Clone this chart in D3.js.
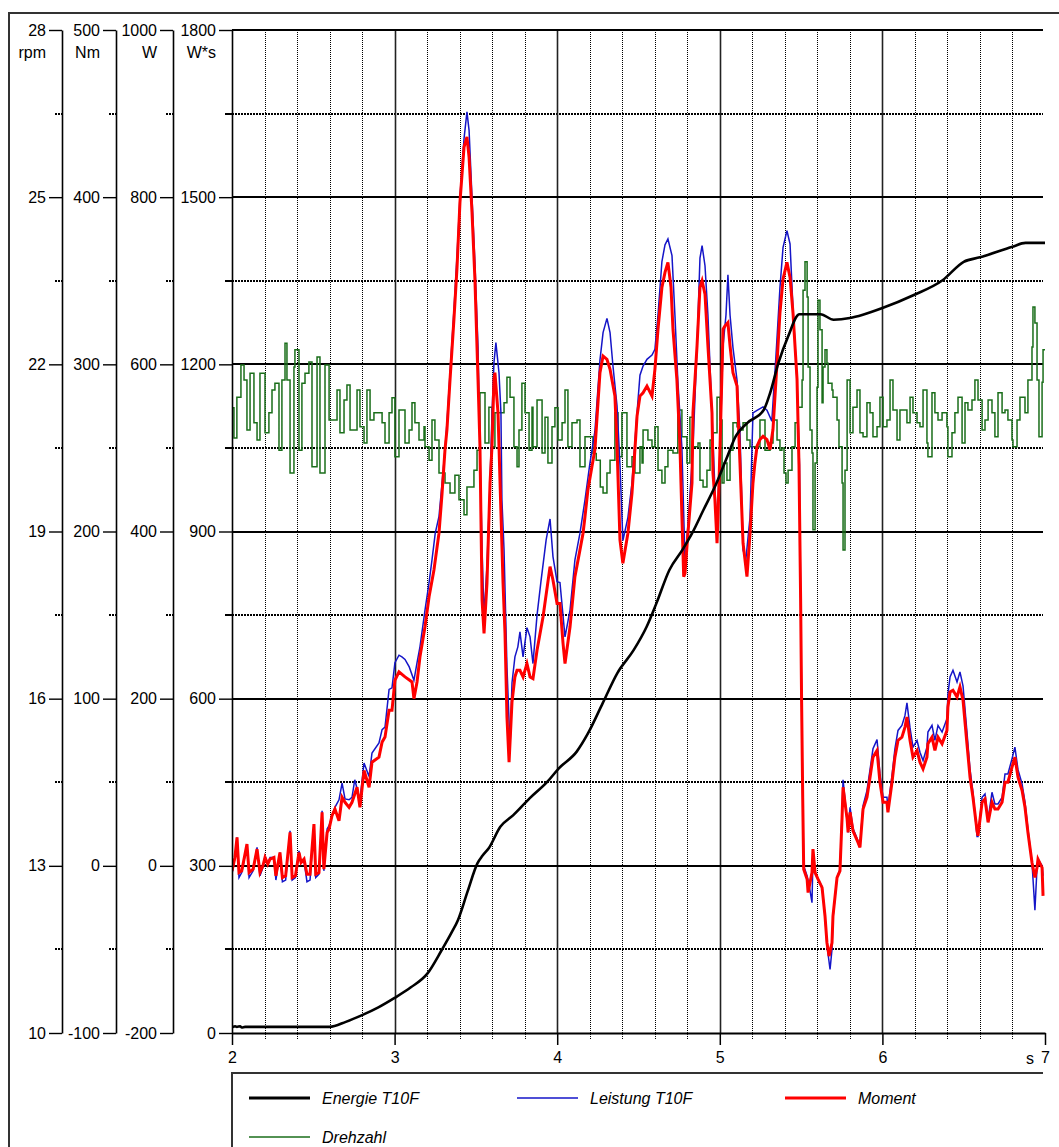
<!DOCTYPE html>
<html><head><meta charset="utf-8">
<script src="https://cdn.jsdelivr.net/npm/d3@7"></script>
<style>body{margin:0;background:#fff}svg{display:block}text{font-family:"Liberation Sans",Arial,sans-serif;fill:#000}</style>
</head><body><svg id="c" width="1059" height="1147"></svg>
<script>
// ---- data ----
const timeTicks = [2, 3, 4, 5, 6, 7];
const rpmTicks = [10, 13, 16, 19, 22, 25, 28];
const nmTicks = [-100, 0, 100, 200, 300, 400, 500];
const wTicks = [-200, 0, 200, 400, 600, 800, 1000];
const wsTicks = [0, 300, 600, 900, 1200, 1500, 1800];
const seriesNames = ["Energie T10F", "Leistung T10F", "Moment", "Drehzahl"];

// Energie T10F [s, W*s]
const energie = [[2.00,10],[2.02,12],[2.03,11],[2.05,12],[2.06,10],[2.08,11],[2.6,11],[2.7,20],[2.8,32],[2.9,46],[3.0,63],[3.1,82],[3.2,106],[3.29,149],[3.35,180],[3.39,203],[3.45,255],[3.51,305],[3.54,318],[3.58,332],[3.65,370],[3.73,391],[3.83,421],[3.94,451],[4.01,475],[4.12,505],[4.19,538],[4.28,592],[4.37,646],[4.47,687],[4.55,729],[4.61,771],[4.69,831],[4.77,867],[4.83,897],[4.90,939],[4.98,987],[5.04,1030],[5.10,1072],[5.17,1095],[5.27,1118],[5.31,1149],[5.36,1202],[5.42,1250],[5.49,1290],[5.62,1290],[5.70,1280],[5.80,1283],[5.88,1289],[6.00,1301],[6.19,1324],[6.37,1351],[6.50,1384],[6.60,1392],[6.80,1411],[6.88,1418],[7.0,1418]];

// Leistung T10F [s, W]
const leistung = [[2.000,-10],[2.018,10],[2.031,34],[2.043,-14],[2.060,-8],[2.092,24],[2.105,-14],[2.130,-6],[2.154,22],[2.172,-12],[2.190,-2],[2.203,12],[2.220,2],[2.234,10],[2.258,10],[2.270,-17],[2.295,16],[2.310,-19],[2.330,-17],[2.357,42],[2.370,-17],[2.390,-14],[2.412,18],[2.425,4],[2.443,6],[2.461,-19],[2.480,-17],[2.504,50],[2.515,-14],[2.535,-10],[2.554,66],[2.565,-6],[2.585,44],[2.597,48],[2.615,59],[2.633,70],
[2.658,79],[2.677,99],[2.695,80],[2.720,79],[2.738,82],[2.755,103],[2.787,79],[2.812,123],[2.843,107],[2.861,135],[2.904,147],[2.923,163],[2.941,166],[2.966,211],[2.984,213],[3.002,243],[3.027,252],[3.045,250],[3.064,247],[3.090,238],[3.119,222],[3.138,243],[3.156,262],[3.187,306],[3.212,339],[3.230,366],[3.250,398],[3.273,418],[3.292,458],[3.310,498],[3.322,530],[3.341,590],[3.365,665],[3.384,730],[3.402,800],[3.427,870],[3.445,902],[3.458,880],[3.476,800],[3.494,721],[3.513,621],[3.525,498],[3.538,378],[3.550,298],[3.568,358],[3.587,458],[3.599,540],[3.611,602],[3.623,626],[3.642,590],[3.654,542],[3.660,438],[3.673,378],[3.691,238],[3.710,142],[3.722,219],[3.740,250],[3.758,262],[3.771,280],[3.790,250],[3.814,285],[3.833,274],[3.851,242],[3.876,300],[3.900,340],[3.932,390],[3.956,415],[3.974,370],[3.999,340],[4.017,339],[4.048,274],[4.079,306],[4.109,366],[4.140,398],[4.171,438],[4.200,480],[4.232,520],[4.263,605],[4.282,638],[4.306,655],[4.325,638],[4.343,598],[4.368,550],[4.386,480],[4.404,389],[4.435,417],[4.460,458],[4.491,542],[4.509,587],[4.528,598],[4.552,606],[4.583,611],[4.601,618],[4.620,659],[4.644,723],[4.663,743],[4.681,750],[4.706,730],[4.724,659],[4.742,580],[4.767,500],[4.786,363],[4.804,407],[4.835,500],[4.860,622],[4.878,727],[4.891,742],[4.909,718],[4.927,659],[4.952,540],[4.970,450],[4.983,401],[5.001,498],[5.020,622],[5.038,659],[5.050,707],[5.063,659],[5.081,620],[5.106,581],[5.124,520],[5.143,378],[5.160,366],[5.186,417],[5.204,542],[5.229,545],[5.266,549],[5.290,545],[5.320,532],[5.345,609],[5.370,692],[5.389,740],[5.413,760],[5.432,744],[5.450,668],[5.475,580],[5.490,480],[5.497,320],[5.503,200],[5.510,80],[5.516,0],
[5.537,-12],[5.550,-24],[5.567,-44],[5.573,10],[5.586,-8],[5.604,-16],[5.629,-25],[5.647,-60],[5.659,-95],[5.678,-124],[5.690,-100],[5.696,-62],[5.721,-14],[5.739,-4],[5.752,65],[5.758,103],[5.775,70],[5.789,40],[5.801,70],[5.819,45],[5.850,30],[5.862,25],[5.881,72],[5.905,90],[5.924,115],[5.942,140],[5.967,151],[5.985,110],[6.004,82],[6.028,82],[6.034,70],[6.059,108],[6.077,140],[6.096,162],[6.120,168],[6.139,180],[6.151,195],[6.170,165],[6.188,142],[6.213,150],[6.231,136],[6.250,126],[6.274,142],[6.280,160],[6.305,168],[6.323,150],[6.342,168],[6.367,160],[6.397,176],[6.403,205],[6.416,226],[6.434,234],[6.459,220],[6.477,232],[6.496,215],[6.520,160],[6.539,115],[6.557,88],[6.582,35],[6.588,35],[6.613,82],[6.631,86],[6.650,56],[6.674,88],[6.692,74],[6.711,74],[6.736,82],[6.754,110],[6.772,110],[6.797,128],[6.815,142],[6.834,115],[6.859,98],[6.877,76],[6.895,44],[6.920,4],[6.938,-53],[6.951,-2],[6.957,8],[6.982,0],[6.988,-12]];

// Moment [s, Nm]
const moment = [[2.000,-3],[2.018,5],[2.031,17],[2.043,-4],[2.060,-3],[2.092,13],[2.105,-4],[2.130,-2],[2.154,10],[2.172,-4],[2.190,0],[2.203,5],[2.220,1],[2.234,4],[2.258,5],[2.270,-6],[2.295,8],[2.310,-7],[2.330,-6],[2.357,20],[2.370,-7],[2.390,-6],[2.412,8],[2.425,2],[2.443,4],[2.461,-5],[2.480,-5],[2.504,25],[2.515,-5],[2.535,-4],[2.554,32],[2.565,-2],[2.585,20],[2.597,22],[2.615,30],[2.633,34],
[2.658,27],[2.677,41],[2.695,38],[2.720,35],[2.738,38],[2.769,47],[2.787,35],[2.812,57],[2.843,47],[2.861,62],[2.904,65],[2.923,74],[2.941,77],[2.966,93],[2.984,93],[3.002,111],[3.027,116],[3.064,113],[3.107,110],[3.119,100],[3.138,110],[3.156,125],[3.187,143],[3.212,161],[3.242,177],[3.273,199],[3.292,223],[3.310,249],[3.322,261],[3.341,291],[3.365,327],[3.384,358],[3.402,397],[3.427,430],[3.445,436],[3.458,424],[3.476,391],[3.494,351],[3.513,291],[3.525,251],[3.538,159],[3.550,139],[3.568,169],[3.587,229],[3.599,251],[3.611,291],[3.617,295],[3.636,271],[3.648,231],[3.667,169],[3.679,139],[3.691,89],[3.704,62],[3.722,98],[3.740,113],[3.753,117],[3.771,117],[3.790,113],[3.814,121],[3.833,113],[3.851,112],[3.876,129],[3.913,149],[3.956,179],[3.974,171],[3.999,157],[4.017,157],[4.036,133],[4.048,121],[4.079,143],[4.109,173],[4.140,189],[4.159,199],[4.171,209],[4.189,225],[4.214,239],[4.232,249],[4.263,295],[4.282,305],[4.306,303],[4.325,297],[4.355,281],[4.368,251],[4.386,195],[4.404,181],[4.435,199],[4.460,223],[4.478,249],[4.491,269],[4.509,281],[4.528,283],[4.552,287],[4.583,281],[4.601,297],[4.620,321],[4.644,346],[4.663,355],[4.681,361],[4.700,346],[4.712,321],[4.736,291],[4.755,251],[4.767,209],[4.778,173],[4.786,175],[4.804,199],[4.829,229],[4.835,271],[4.860,311],[4.878,346],[4.891,350],[4.909,342],[4.927,311],[4.952,271],[4.958,235],[4.970,219],[4.983,193],[4.989,209],[5.001,249],[5.020,321],[5.032,323],[5.050,325],[5.063,311],[5.081,295],[5.106,287],[5.112,271],[5.124,241],[5.143,193],[5.167,173],[5.186,199],[5.204,229],[5.216,241],[5.229,251],[5.247,255],[5.266,257],[5.290,255],[5.309,249],[5.327,261],[5.352,301],[5.370,331],[5.389,351],[5.413,361],[5.432,352],[5.450,331],[5.475,291],[5.487,240],[5.497,160],[5.503,99],[5.510,40],[5.516,-2],
[5.537,-8],[5.543,-16],[5.567,-4],[5.573,10],[5.586,-4],[5.604,-8],[5.629,-13],[5.647,-30],[5.659,-46],[5.672,-54],[5.690,-46],[5.696,-30],[5.721,-7],[5.739,-3],[5.752,29],[5.758,47],[5.783,28],[5.789,20],[5.801,32],[5.819,21],[5.850,14],[5.862,11],[5.881,34],[5.905,41],[5.924,53],[5.942,65],[5.967,69],[5.985,50],[6.004,38],[6.028,38],[6.034,32],[6.059,50],[6.077,65],[6.096,75],[6.120,77],[6.139,83],[6.151,89],[6.170,75],[6.188,65],[6.213,69],[6.231,62],[6.250,58],[6.274,65],[6.280,73],[6.305,77],[6.323,69],[6.342,77],[6.367,73],[6.397,81],[6.403,95],[6.416,104],[6.434,105],[6.459,101],[6.477,107],[6.496,99],[6.520,73],[6.539,53],[6.557,41],[6.582,21],[6.588,18],[6.613,38],[6.631,40],[6.650,26],[6.674,38],[6.692,34],[6.711,34],[6.736,38],[6.754,50],[6.772,50],[6.797,59],[6.815,65],[6.834,53],[6.859,45],[6.877,35],[6.895,20],[6.920,2],[6.938,-7],[6.951,-1],[6.957,4],[6.982,-1],[6.988,-18]];

// Drehzahl [s, rpm]
const drehzahl = [[2.000,21.22],[2.012,20.68],[2.030,21.41],[2.055,21.99],[2.074,21.72],[2.092,20.82],[2.111,21.84],[2.135,20.95],[2.154,20.64],[2.172,21.84],[2.203,20.77],[2.227,21.13],[2.246,21.54],[2.264,21.66],[2.289,20.46],[2.307,21.72],[2.326,22.38],[2.338,21.72],[2.357,20.05],[2.381,21.95],[2.387,22.26],[2.412,20.46],[2.430,21.66],[2.449,21.84],[2.473,22.04],[2.492,20.16],[2.523,22.13],[2.541,20.05],[2.572,21.99],[2.597,21.00],[2.646,21.54],[2.664,20.77],[2.689,21.36],[2.707,21.63],[2.726,20.82],[2.769,21.54],[2.787,20.88],[2.812,20.59],[2.830,21.54],[2.849,21.00],[2.873,21.13],[2.923,20.95],[2.941,20.59],[2.966,21.13],[2.984,21.40],[3.002,20.34],[3.027,21.18],[3.064,20.59],[3.089,20.82],[3.107,21.31],[3.125,20.95],[3.150,20.64],[3.181,20.88],[3.187,20.52],[3.212,20.28],[3.230,21.00],[3.248,20.64],[3.273,20.05],[3.310,19.87],[3.341,19.69],[3.371,20.01],[3.396,19.57],[3.427,19.30],[3.445,19.80],[3.488,20.10],[3.507,20.46],[3.525,21.49],[3.556,20.59],[3.580,21.23],[3.599,20.52],[3.617,21.13],[3.673,21.31],[3.691,21.77],[3.710,21.41],[3.734,20.52],[3.753,20.16],[3.765,20.82],[3.783,21.66],[3.802,21.13],[3.827,20.46],[3.845,21.23],[3.851,20.52],[3.876,21.36],[3.907,20.41],[3.925,21.05],[3.943,20.23],[3.968,20.88],[3.986,21.22],[4.005,20.64],[4.030,20.95],[4.048,21.54],[4.066,20.52],[4.091,20.95],[4.122,21.00],[4.140,20.16],[4.171,20.70],[4.220,20.40],[4.240,20.28],[4.265,19.80],[4.282,19.69],[4.306,20.05],[4.325,20.28],[4.355,21.13],[4.374,20.34],[4.398,21.13],[4.429,20.16],[4.460,20.34],[4.478,20.05],[4.509,20.52],[4.522,20.23],[4.528,20.82],[4.558,20.64],[4.583,20.52],[4.601,20.88],[4.620,20.10],[4.644,19.87],[4.663,20.16],[4.681,20.46],[4.712,20.41],[4.742,21.18],[4.767,20.70],[4.798,20.23],[4.816,21.05],[4.835,20.52],[4.866,20.59],[4.878,19.92],[4.897,19.80],[4.921,20.10],[4.940,20.64],[4.958,20.77],[4.983,21.41],[5.001,21.00],[5.014,19.87],[5.026,20.23],[5.044,19.92],[5.063,20.46],[5.081,20.95],[5.106,20.88],[5.124,20.82],[5.143,20.95],[5.167,20.64],[5.186,20.52],[5.247,21.00],[5.278,20.46],[5.309,20.59],[5.327,21.00],[5.352,20.64],[5.370,20.46],[5.382,20.50],[5.395,20.05],[5.407,19.87],[5.420,20.10],[5.444,20.52],[5.463,20.95],[5.481,21.23],[5.506,21.72],[5.512,23.33],[5.524,23.84],[5.537,23.21],[5.543,21.95],[5.555,20.82],[5.567,20.41],[5.573,19.03],[5.586,20.23],[5.598,21.59],[5.604,23.15],[5.616,22.62],[5.629,21.31],[5.635,21.95],[5.647,22.26],[5.659,22.02],[5.666,21.66],[5.690,21.54],[5.696,21.41],[5.721,21.00],[5.733,20.52],[5.752,19.87],[5.758,18.67],[5.770,20.10],[5.783,21.72],[5.801,20.77],[5.819,21.23],[5.844,21.54],[5.862,20.77],[5.881,20.70],[5.905,21.31],[5.924,21.13],[5.942,20.70],[5.967,20.88],[5.985,21.41],[6.004,20.88],[6.028,21.00],[6.047,21.72],[6.065,21.18],[6.090,20.64],[6.108,21.18],[6.151,20.95],[6.170,21.41],[6.188,21.13],[6.213,20.95],[6.231,20.88],[6.250,21.54],[6.274,20.59],[6.280,20.34],[6.305,21.49],[6.323,21.13],[6.342,21.00],[6.367,21.13],[6.397,20.88],[6.403,20.34],[6.428,20.77],[6.446,21.13],[6.465,21.41],[6.490,20.59],[6.508,21.31],[6.526,21.18],[6.551,21.36],[6.569,21.72],[6.588,21.36],[6.613,20.82],[6.631,21.00],[6.650,21.36],[6.674,21.13],[6.692,20.70],[6.711,21.49],[6.736,21.13],[6.754,21.18],[6.772,21.00],[6.797,20.64],[6.803,20.52],[6.828,21.00],[6.846,21.41],[6.877,21.13],[6.895,21.72],[6.920,22.31],[6.926,23.03],[6.938,22.74],[6.951,21.72],[6.963,20.70],[6.982,21.68],[6.988,22.26],[7.0,22.26]];

// ---- drawing ----
const svg = d3.select('#c');
const L = 232, R = 1045, T = 30, B = 1033, GR = 1043;
const x = d3.scaleLinear().domain([2, 7]).range([L, R]);
const yWs = d3.scaleLinear().domain([0, 1800]).range([B, T]);
const yW = d3.scaleLinear().domain([-200, 1000]).range([B, T]);
const yNm = d3.scaleLinear().domain([-100, 500]).range([B, T]);
const yRpm = d3.scaleLinear().domain([10, 28]).range([B, T]);
const snap1 = v => Math.round(v) + 0.5; // crisp 1px line
const snap2 = v => Math.round(v);       // crisp 2px line

// outer frame
svg.append('path').attr('d', 'M9,1147V13H1059').attr('fill', 'none').attr('stroke', '#333').attr('stroke-width', 2);

const grid = svg.append('g');
// minor vertical
for (let i = 1; i < 25; i++) {
  if (i % 5 === 0) continue;
  const t = 2 + i * 0.2;
  const xx = snap1(x(t));
  grid.append('line').attr('x1', xx).attr('x2', xx).attr('y1', T).attr('y2', B + 7)
    .attr('stroke', '#000').attr('stroke-width', 1).attr('stroke-dasharray', '1,1');
}
// minor horizontal
for (let v = 150; v < 1800; v += 300) {
  const yy = snap2(yWs(v));
  grid.append('line').attr('x1', L - 6).attr('x2', GR).attr('y1', yy).attr('y2', yy)
    .attr('stroke', '#000').attr('stroke-width', 2).attr('stroke-dasharray', '2,1');
}
// major vertical
[3, 4, 5, 6].forEach(t => {
  const xx = snap1(x(t));
  grid.append('line').attr('x1', xx).attr('x2', xx).attr('y1', T).attr('y2', B)
    .attr('stroke', '#222').attr('stroke-width', 1.6);
});
// major horizontal + top
[300, 600, 900, 1200, 1500, 1800].forEach(v => {
  const yy = snap2(yWs(v));
  grid.append('line').attr('x1', L).attr('x2', GR).attr('y1', yy).attr('y2', yy)
    .attr('stroke', '#000').attr('stroke-width', 2);
});

// data lines
svg.append('defs').append('clipPath').attr('id', 'clip').append('rect')
  .attr('x', L).attr('y', T - 2).attr('width', R - L).attr('height', B - T + 2);
const plot = svg.append('g').attr('clip-path', 'url(#clip)');
const mk = (ys, curve) => d3.line().x(d => x(d[0])).y(d => ys(d[1])).curve(curve);

plot.append('path').datum(drehzahl).attr('d', mk(yRpm, d3.curveStepAfter))
  .attr('fill', 'none').attr('stroke', '#1a6e1a').attr('stroke-width', 1.5);
plot.append('path').datum(leistung).attr('d', mk(yW, d3.curveLinear))
  .attr('fill', 'none').attr('stroke', '#1515c8').attr('stroke-width', 1.5);
plot.append('path').datum(moment).attr('d', mk(yNm, d3.curveLinear))
  .attr('fill', 'none').attr('stroke', '#ff0000').attr('stroke-width', 3);
plot.append('path').datum(energie).attr('d', mk(yWs, d3.curveMonotoneX))
  .attr('fill', 'none').attr('stroke', '#000').attr('stroke-width', 2.6);

// left axes
function leftAxis(scale, ticks, xPos, unit) {
  const g = svg.append('g').attr('transform', `translate(${xPos},0)`);
  g.call(d3.axisLeft(scale).tickValues(ticks).tickSize(13).tickSizeOuter(0).tickPadding(3).tickFormat(d => d));
  g.select('.domain').attr('stroke', '#000').attr('stroke-width', 1.6);
  g.selectAll('.tick line').attr('stroke', '#000').attr('stroke-width', 1.4);
  g.selectAll('.tick text').attr('font-size', 16).attr('font-family', '"Liberation Sans",Arial,sans-serif').attr('fill', '#000');
  for (let k = 0; k < ticks.length - 1; k++) {
    const m = (ticks[k] + ticks[k + 1]) / 2;
    const yy = snap2(scale(m));
    g.append('line').attr('x1', -7).attr('x2', 0).attr('y1', yy).attr('y2', yy)
      .attr('stroke', '#000').attr('stroke-width', 2).attr('stroke-dasharray', '2,1');
  }
  g.append('text').attr('x', -16).attr('y', 58).attr('text-anchor', 'end')
    .attr('font-size', 16).text(unit);
}
leftAxis(yRpm, rpmTicks, 62, 'rpm');
leftAxis(yNm, nmTicks, 116, 'Nm');
leftAxis(yW, wTicks, 173, 'W');
leftAxis(yWs, wsTicks, L, 'W*s');

// x axis
const xg = svg.append('g').attr('transform', `translate(0,${B})`);
xg.call(d3.axisBottom(x).tickValues(timeTicks).tickSize(12).tickSizeOuter(0).tickPadding(7).tickFormat(d => d));
xg.select('.domain').attr('stroke', '#000').attr('stroke-width', 2);
xg.selectAll('.tick line').attr('stroke', '#000').attr('stroke-width', 1.5);
xg.selectAll('.tick text').attr('font-size', 16).attr('font-family', '"Liberation Sans",Arial,sans-serif').attr('fill', '#000');
svg.append('text').attr('x', 1034).attr('y', 1063.5).attr('text-anchor', 'end').attr('font-size', 16).text('s');

// legend
svg.append('path').attr('d', `M${L},1147V1073H${GR}`).attr('fill', 'none').attr('stroke', '#333').attr('stroke-width', 2);
const legend = [
  { name: seriesNames[0], color: '#000', w: 3, x: 249, y: 1098 },
  { name: seriesNames[1], color: '#1515c8', w: 1.5, x: 517, y: 1098 },
  { name: seriesNames[2], color: '#ff0000', w: 3, x: 785, y: 1098 },
  { name: seriesNames[3], color: '#1a6e1a', w: 1.5, x: 249, y: 1137 }
];
legend.forEach(d => {
  svg.append('line').attr('x1', d.x).attr('x2', d.x + 61).attr('y1', d.y).attr('y2', d.y)
    .attr('stroke', d.color).attr('stroke-width', d.w);
  svg.append('text').attr('x', d.x + 73).attr('y', d.y + 6).attr('font-size', 16)
    .attr('font-style', 'italic').text(d.name);
});
</script></body></html>
